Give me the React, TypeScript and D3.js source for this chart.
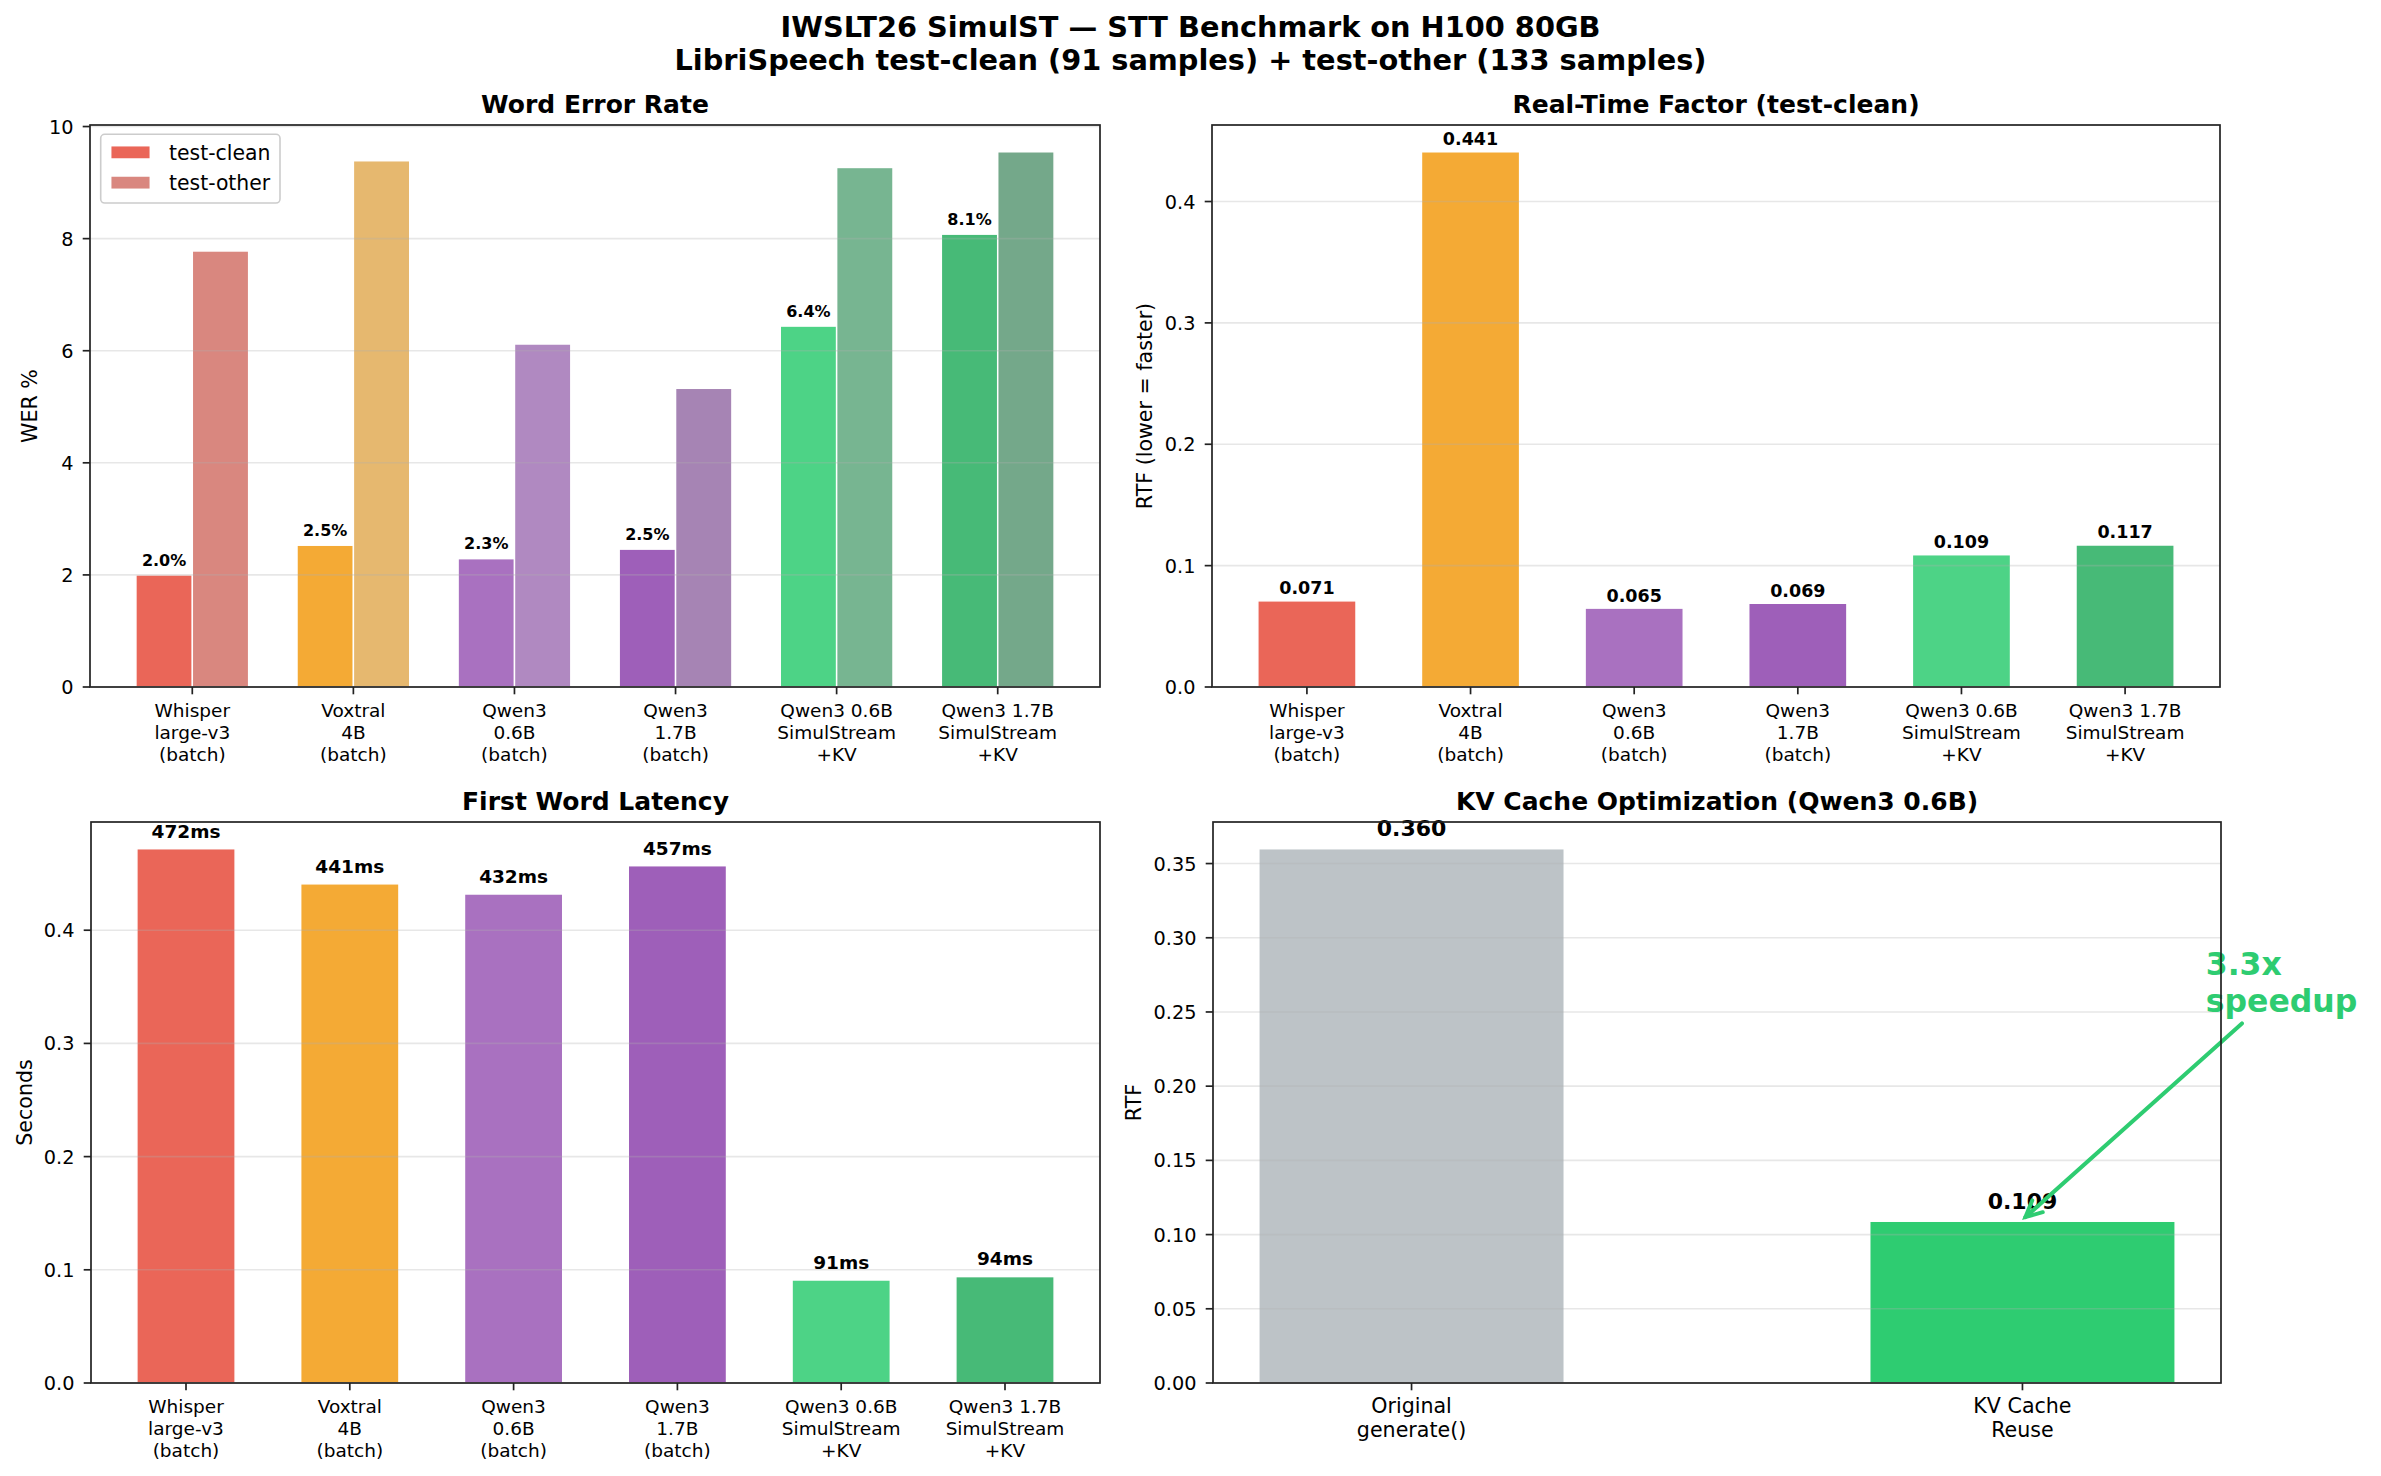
import * as d3 from 'd3';

// ---- data ----
const MODELS = [
  'Whisper\nlarge-v3\n(batch)',
  'Voxtral\n4B\n(batch)',
  'Qwen3\n0.6B\n(batch)',
  'Qwen3\n1.7B\n(batch)',
  'Qwen3 0.6B\nSimulStream\n+KV',
  'Qwen3 1.7B\nSimulStream\n+KV',
];
const WER_CLEAN = [2.0, 2.53, 2.29, 2.46, 6.44, 8.08];
const WER_OTHER = [7.78, 9.39, 6.12, 5.33, 9.27, 9.55];
const RTF_CLEAN = [0.071, 0.441, 0.065, 0.069, 0.109, 0.117];
const FIRST_WORD = [0.472, 0.441, 0.432, 0.457, 0.091, 0.094];
const KV_LABELS = ['Original\ngenerate()', 'KV Cache\nReuse'];
const KV_RTF = [0.36, 0.109];

const WER_TICKS = [0, 2, 4, 6, 8, 10];
const RTF_TICKS = [0, 0.1, 0.2, 0.3, 0.4];
const FWL_TICKS = [0, 0.1, 0.2, 0.3, 0.4];
const KV_TICKS = [0, 0.05, 0.1, 0.15, 0.2, 0.25, 0.3, 0.35];

const CLEAN_COLORS = ['#e74c3c', '#f39c12', '#9b59b6', '#8e44ad', '#2ecc71', '#27ae60'];
const OTHER_COLORS = ['#c0392b', '#d68910', '#7d3c98', '#6c3483', '#1e8449', '#196f3d'];
const KV_COLORS = ['#bdc3c7', '#2ecc71'];

const W = 2381;
const H = 1476;
const FONT = 'DejaVu Sans, Verdana, sans-serif';
const SPINE = '#222';

type Box = { left: number; right: number; top: number; bottom: number };

const P_WER: Box = { left: 90, right: 1100, top: 125, bottom: 687 };
const P_RTF: Box = { left: 1212, right: 2220, top: 125, bottom: 687 };
const P_FWL: Box = { left: 91, right: 1100, top: 822, bottom: 1383 };
const P_KV: Box = { left: 1213, right: 2221, top: 822, bottom: 1383 };

interface AxesProps {
  box: Box;
  x: d3.ScaleLinear<number, number>;
  y: d3.ScaleLinear<number, number>;
  yTicks: number[];
  yFmt: (v: number) => string;
  yLabel: string;
  yLabelX: number;
  title: string;
  cats: string[];
  catSize: number;
  catGap: number;
  bars: React.ReactNode;
  labels?: React.ReactNode;
}

function Axes({ box, x, y, yTicks, yFmt, yLabel, yLabelX, title, cats, catSize, catGap, bars, labels }: AxesProps) {
  const midY = (box.top + box.bottom) / 2;
  return (
    <g>
      {bars}
      {/* grid sits above the bars, like matplotlib's default */}
      {yTicks.map((t) => (
        <line key={'g' + t} x1={box.left} x2={box.right} y1={y(t)} y2={y(t)}
          stroke="#b0b0b0" strokeOpacity={0.3} strokeWidth={1.6} />
      ))}
      {labels}
      <rect x={box.left} y={box.top} width={box.right - box.left} height={box.bottom - box.top}
        fill="none" stroke={SPINE} strokeWidth={1.7} />
      {yTicks.map((t) => (
        <g key={'y' + t}>
          <line x1={box.left - 7.3} x2={box.left} y1={y(t)} y2={y(t)} stroke={SPINE} strokeWidth={1.7} />
          <text x={box.left - 16.5} y={y(t) + 7} textAnchor="end" fontSize={19.3} fill="#000">{yFmt(t)}</text>
        </g>
      ))}
      {cats.map((c, i) => (
        <g key={'x' + i}>
          <line x1={x(i)} x2={x(i)} y1={box.bottom} y2={box.bottom + 7.3} stroke={SPINE} strokeWidth={1.7} />
          <text textAnchor="middle" fontSize={catSize} fill="#000">
            {c.split('\n').map((ln, j) => (
              <tspan key={j} x={x(i)} y={box.bottom + 30 + catGap * j}>{ln}</tspan>
            ))}
          </text>
        </g>
      ))}
      <text x={(box.left + box.right) / 2} y={box.top - 12.5} textAnchor="middle"
        fontSize={25} fontWeight="bold">{title}</text>
      {/* yLabelX is the baseline of the rotated label */}
      <text transform={`translate(${yLabelX},${midY}) rotate(-90)`} textAnchor="middle"
        fontSize={20.6}>{yLabel}</text>
    </g>
  );
}

function catScale(box: Box, n: number, barWidth: number) {
  const span = n - 1 + barWidth;
  const pad = span * 0.05;
  return d3.scaleLinear()
    .domain([-barWidth / 2 - pad, n - 1 + barWidth / 2 + pad])
    .range([box.left, box.right]);
}

function valScale(box: Box, maxV: number) {
  return d3.scaleLinear().domain([0, maxV * 1.05]).range([box.bottom, box.top]);
}

export default function App() {
  const idx = d3.range(MODELS.length);

  // ---- Word Error Rate ----
  const bw = 0.35;
  const xW = catScale(P_WER, MODELS.length, 2 * bw);
  const yW = valScale(P_WER, d3.max([...WER_CLEAN, ...WER_OTHER]) as number);
  const werBars = idx.map((i) => (
    <g key={i}>
      <rect x={xW(i - bw)} y={yW(WER_CLEAN[i])} width={xW(bw) - xW(0)} height={yW(0) - yW(WER_CLEAN[i])}
        fill={CLEAN_COLORS[i]} opacity={0.85} stroke="#fff" strokeWidth={1.5} />
      <rect x={xW(i)} y={yW(WER_OTHER[i])} width={xW(bw) - xW(0)} height={yW(0) - yW(WER_OTHER[i])}
        fill={OTHER_COLORS[i]} opacity={0.6} stroke="#fff" strokeWidth={1.5} />
    </g>
  ));
  const werLabels = idx.map((i) => (
    <text key={i} x={xW(i - bw / 2)} y={yW(WER_CLEAN[i] + 0.1) - 3.8} textAnchor="middle"
      fontSize={16} fontWeight="bold">{WER_CLEAN[i].toFixed(1)}%</text>
  ));
  const lg = { x: P_WER.left + 10.7, y: P_WER.top + 9.3 };
  const legend = (
    <g>
      <rect x={lg.x} y={lg.y} width={179.3} height={68.7} rx={4} fill="#fff" fillOpacity={0.8}
        stroke="#cccccc" strokeWidth={1.6} />
      <rect x={lg.x + 10} y={lg.y + 11.4} width={39.6} height={13.3} fill={CLEAN_COLORS[0]} opacity={0.85}
        stroke="#fff" strokeWidth={1.5} />
      <rect x={lg.x + 10} y={lg.y + 41.7} width={39.6} height={13.3} fill={OTHER_COLORS[0]} opacity={0.6}
        stroke="#fff" strokeWidth={1.5} />
      <text x={lg.x + 68.3} y={lg.y + 25.7} fontSize={20.4}>test-clean</text>
      <text x={lg.x + 68.3} y={lg.y + 55.5} fontSize={20.4}>test-other</text>
    </g>
  );

  // ---- Real-Time Factor ----
  const xR = catScale(P_RTF, MODELS.length, 0.6);
  const yR = valScale(P_RTF, d3.max(RTF_CLEAN) as number);
  const rtfBars = idx.map((i) => (
    <rect key={i} x={xR(i - 0.3)} y={yR(RTF_CLEAN[i])} width={xR(0.6) - xR(0)} height={yR(0) - yR(RTF_CLEAN[i])}
      fill={CLEAN_COLORS[i]} opacity={0.85} stroke="#fff" strokeWidth={1.5} />
  ));
  const rtfLabels = idx.map((i) => (
    <text key={i} x={xR(i)} y={yR(RTF_CLEAN[i] + 0.002) - 4.1} textAnchor="middle"
      fontSize={17.5} fontWeight="bold">{RTF_CLEAN[i].toFixed(3)}</text>
  ));

  // ---- First Word Latency ----
  const xF = catScale(P_FWL, MODELS.length, 0.6);
  const yF = valScale(P_FWL, d3.max(FIRST_WORD) as number);
  const fwlBars = idx.map((i) => (
    <rect key={i} x={xF(i - 0.3)} y={yF(FIRST_WORD[i])} width={xF(0.6) - xF(0)} height={yF(0) - yF(FIRST_WORD[i])}
      fill={CLEAN_COLORS[i]} opacity={0.85} stroke="#fff" strokeWidth={1.5} />
  ));
  const fwlLabels = idx.map((i) => (
    <text key={i} x={xF(i)} y={yF(FIRST_WORD[i] + 0.006) - 4.4} textAnchor="middle"
      fontSize={18.5} fontWeight="bold">{Math.round(FIRST_WORD[i] * 1000)}ms</text>
  ));

  // ---- KV cache ----
  const xK = catScale(P_KV, KV_RTF.length, 0.5);
  const yK = valScale(P_KV, d3.max(KV_RTF) as number);
  const kvBars = KV_RTF.map((v, i) => (
    <rect key={i} x={xK(i - 0.25)} y={yK(v)} width={xK(0.5) - xK(0)} height={yK(0) - yK(v)}
      fill={KV_COLORS[i]} stroke="#fff" strokeWidth={1.5} />
  ));
  const kvLabels = KV_RTF.map((v, i) => (
    <text key={i} x={xK(i)} y={yK(v + 0.005) - 5.2} textAnchor="middle"
      fontSize={22} fontWeight="bold">{v.toFixed(3)}</text>
  ));
  const speedup = (KV_RTF[0] / KV_RTF[1]).toFixed(1);

  // annotation: text at (1.3, 0.25), arrow to (1, 0.11)
  const tx = xK(1.3);
  const ty = yK(0.25);
  const tipX0 = xK(1);
  const tipY0 = yK(0.11);
  const fsA = 31.5;
  const boxCx = tx + 79;
  const boxCy = ty - 37.3 / 2 - fsA * 0.26;
  const boxBottom = ty + fsA * 0.236 + 4;
  const t = (boxBottom - tipY0) / (boxCy - tipY0);
  const startX = tipX0 + (boxCx - tipX0) * t;
  const startY = boxBottom;
  const len = Math.hypot(startX - tipX0, startY - tipY0);
  const ux = (startX - tipX0) / len;
  const uy = (startY - tipY0) / len;
  const tipX = tipX0 + ux * 4;
  const tipY = tipY0 + uy * 4;
  const headL = 18;
  const ang = (26 * Math.PI) / 180;
  const rot = (a: number) => [ux * Math.cos(a) - uy * Math.sin(a), ux * Math.sin(a) + uy * Math.cos(a)];
  const [h1x, h1y] = rot(ang);
  const [h2x, h2y] = rot(-ang);
  const annotation = (
    <g>
      <line x1={startX} y1={startY} x2={tipX} y2={tipY} stroke="#2ecc71" strokeWidth={4} strokeLinecap="round" />
      <polyline points={`${tipX + h1x * headL},${tipY + h1y * headL} ${tipX},${tipY} ${tipX + h2x * headL},${tipY + h2y * headL}`}
        fill="none" stroke="#2ecc71" strokeWidth={4} strokeLinecap="round" strokeLinejoin="miter" />
      <text x={tx} fontSize={fsA} fontWeight="bold" fill="#2ecc71">
        <tspan x={tx} y={ty - 37.3}>{speedup}x</tspan>
        <tspan x={tx} y={ty}>speedup</tspan>
      </text>
    </g>
  );

  return (
    <>
      <style>{'body{margin:0}'}</style>
      <svg width={W} height={H} viewBox={`0 0 ${W} ${H}`} style={{ display: 'block', background: '#fff' }}
        fontFamily={FONT}>
        <rect width={W} height={H} fill="#fff" />
        <text x={W / 2} textAnchor="middle" fontSize={28.8} fontWeight="bold">
          <tspan x={W / 2} y={37}>IWSLT26 SimulST — STT Benchmark on H100 80GB</tspan>
          <tspan x={W / 2} y={70}>LibriSpeech test-clean (91 samples) + test-other (133 samples)</tspan>
        </text>

        <Axes box={P_WER} x={xW} y={yW} yTicks={WER_TICKS} yFmt={(v) => String(v)} yLabel="WER %"
          yLabelX={P_WER.left - 53} title="Word Error Rate" cats={MODELS} catSize={18.5} catGap={22}
          bars={werBars} labels={<>{werLabels}{legend}</>} />
        <Axes box={P_RTF} x={xR} y={yR} yTicks={RTF_TICKS} yFmt={(v) => v.toFixed(1)} yLabel="RTF (lower = faster)"
          yLabelX={P_RTF.left - 60} title="Real-Time Factor (test-clean)" cats={MODELS} catSize={18.5} catGap={22}
          bars={rtfBars} labels={rtfLabels} />
        <Axes box={P_FWL} x={xF} y={yF} yTicks={FWL_TICKS} yFmt={(v) => v.toFixed(1)} yLabel="Seconds"
          yLabelX={P_FWL.left - 59.5} title="First Word Latency" cats={MODELS} catSize={18.5} catGap={22}
          bars={fwlBars} labels={fwlLabels} />
        <Axes box={P_KV} x={xK} y={yK} yTicks={KV_TICKS} yFmt={(v) => v.toFixed(2)} yLabel="RTF"
          yLabelX={P_KV.left - 72} title="KV Cache Optimization (Qwen3 0.6B)" cats={KV_LABELS} catSize={20.6} catGap={24}
          bars={kvBars} labels={<>{kvLabels}{annotation}</>} />
      </svg>
    </>
  );
}
